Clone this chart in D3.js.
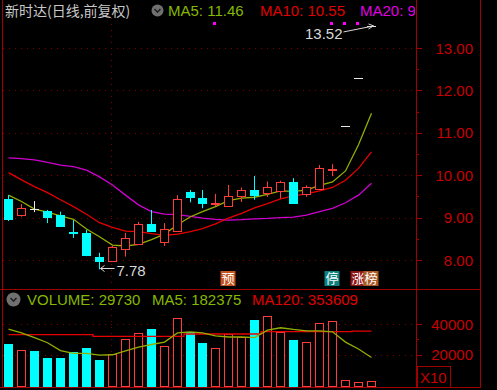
<!DOCTYPE html>
<html><head><meta charset="utf-8">
<script src="https://cdn.jsdelivr.net/npm/d3@7"></script>
<style>html,body{margin:0;padding:0;background:#000;overflow:hidden}svg{display:block}</style>
</head><body>
<svg id="c" width="497" height="390"></svg>
<script>
// ---- data ----
const days  = [1,2,3,4,5,6,7,8,9,10,11,12,13,14,15,16,17,18,19,20,21,22,23,24,25,26,27,28,29];
const open  = [9.44,9.07,9.20,9.16,9.05,8.67,8.64,8.06,7.98,8.25,8.38,8.85,8.43,8.69,9.61,9.47,9.32,9.27,9.52,9.65,9.59,9.63,9.85,9.55,9.67,10.12,11.17,12.29,13.52];
const high  = [9.53,9.32,9.39,9.18,9.14,8.94,8.71,8.17,8.33,8.64,8.90,9.18,8.87,9.53,9.65,9.65,9.56,9.77,9.71,9.98,9.85,9.87,9.93,9.76,10.24,10.26,11.17,12.29,13.52];
const low   = [8.92,9.02,9.13,8.87,8.78,8.52,8.09,7.78,7.96,8.08,8.38,8.69,8.33,8.69,9.36,9.22,9.27,9.27,9.37,9.42,9.49,9.45,9.33,9.49,9.67,9.98,11.17,12.29,13.52];
const close = [8.97,9.23,9.20,9.01,8.80,8.64,8.12,7.98,8.31,8.53,8.85,8.69,8.72,9.43,9.49,9.34,9.34,9.50,9.65,9.53,9.73,9.85,9.35,9.73,10.17,10.15,11.17,12.29,13.52];
const ma5   = [9.53,9.38,9.20,9.13,9.04,8.96,8.73,8.55,8.35,8.33,8.37,8.48,8.61,8.83,9.02,9.14,9.26,9.40,9.46,9.48,9.55,9.63,9.62,9.65,9.76,9.84,10.10,10.72,11.46];
const ma10  = [10.06,9.89,9.73,9.59,9.42,9.26,9.08,8.88,8.77,8.68,8.67,8.62,8.58,8.61,8.67,8.74,8.85,8.99,9.10,9.23,9.33,9.44,9.51,9.56,9.63,9.71,9.88,10.16,10.55];
const ma20  = [10.41,10.39,10.36,10.30,10.24,10.20,10.12,9.96,9.77,9.53,9.30,9.14,9.08,9.07,9.03,8.99,8.96,8.94,8.95,8.97,8.98,9.00,9.01,9.06,9.14,9.22,9.35,9.53,9.81];
const volume   = [266700,233300,224400,177800,177800,217800,242200,166700,206700,300000,342200,368900,257800,442200,346700,275600,242200,333300,315600,426700,451100,348900,293300,282200,405000,420000,35000,22145,29730];
const volMa5   = [366700,342000,311000,278000,226700,208900,208900,197800,200000,224400,248900,266700,282200,342200,348900,342200,322200,315600,315600,311100,360000,375600,364400,355600,355600,348900,282200,237800,182375];
const volMa120 = [331000,331000,331000,331000,331000,331000,331000,320000,320000,320000,320000,320000,320000,320000,335000,335000,335000,335000,335000,335000,350000,350000,350000,350000,350000,350000,350000,353609,353609];
const priceTicks = [8,9,10,11,12,13];
const priceMinor = [8.5,9.5,10.5,11.5,12.5];
const volTicks = [200000,400000];
const volMinor = [300000];
const volTickLabels = ["20000","40000"];
const stockTitle = "新时达(日线,前复权)";
const maNames = ["MA5","MA10","MA20"];
const maLast = ["11.46","10.55","9.81"];
const volNames = ["VOLUME: 29730","MA5: 182375","MA120: 353609"];
const markIdx = [16,25,26,27];
const eventIdx = [17,25,27,28];
const eventText = ["预","停","涨","榜"];
const eventFill = ["#c4531f","#0e8080","#8e1414","#a85a26"];
const lowIdx = 7, highIdx = 28;

// ---- drawing ----
const UP='#ff3c3c', DOWN='#00ffff', FLAT='#e8e8e8', GRID='#800000', AXIS='#a00000', LBL='#c80000';
const C5='#96ad00', C10='#e60000', C20='#d000d0';
const FONT='"Liberation Sans", Arial, sans-serif';
const svg = d3.select('#c');
svg.append('rect').attr('width',497).attr('height',390).attr('fill','#000');

const x = d3.scaleBand().domain(d3.range(days.length)).range([2,377]).paddingInner(0.3).paddingOuter(0.15);
const cx = i => Math.round(x(i) + x.bandwidth()/2) + 0.5;
const y = d3.scaleLinear().domain([8,13]).range([260,48]);
const yv = d3.scaleLinear().domain([0,400000]).range([385.5,324]);
const py = v => Math.round(y(v)) + 0.5;

// grid
const g = svg.append('g');
priceTicks.forEach(t => g.append('line').attr('x1',3).attr('x2',416).attr('y1',py(t)).attr('y2',py(t))
  .attr('stroke',GRID).attr('stroke-dasharray','1,5'));
volTicks.forEach(t => { const yy=Math.round(yv(t))+0.5; g.append('line').attr('x1',3).attr('x2',416).attr('y1',yy).attr('y2',yy)
  .attr('stroke',GRID).attr('stroke-dasharray','1,5'); });
const vx = cx(8) - 1;
g.append('line').attr('x1',vx).attr('x2',vx).attr('y1',18).attr('y2',288).attr('stroke',GRID).attr('stroke-dasharray','1,5');
g.append('line').attr('x1',vx).attr('x2',vx).attr('y1',291).attr('y2',386).attr('stroke',GRID).attr('stroke-dasharray','1,5');

// frame
const fr = svg.append('g').attr('stroke',AXIS).attr('stroke-width',1);
fr.append('line').attr('x1',2.5).attr('x2',2.5).attr('y1',0).attr('y2',388);
fr.append('line').attr('x1',416.5).attr('x2',416.5).attr('y1',0).attr('y2',388);
fr.append('line').attr('x1',480.5).attr('x2',480.5).attr('y1',0).attr('y2',388);
fr.append('line').attr('x1',0).attr('x2',481).attr('y1',289.5).attr('y2',289.5);
fr.append('line').attr('x1',0).attr('x2',481).attr('y1',387.5).attr('y2',387.5);

// price axis ticks + labels
priceTicks.forEach(t => {
  fr.append('line').attr('x1',416).attr('x2',422).attr('y1',py(t)).attr('y2',py(t));
  svg.append('text').attr('x',473).attr('y',y(t)+5.5).attr('text-anchor','end').attr('fill',LBL)
    .attr('font-family',FONT).attr('font-size',15).text(d3.format('.2f')(t));
});
priceMinor.forEach(t => fr.append('line').attr('x1',416).attr('x2',419).attr('y1',py(t)).attr('y2',py(t)));
volTicks.forEach((t,k) => {
  const yy=Math.round(yv(t))+0.5;
  fr.append('line').attr('x1',416).attr('x2',422).attr('y1',yy).attr('y2',yy);
  svg.append('text').attr('x',473).attr('y',yv(t)+5.5).attr('text-anchor','end').attr('fill',LBL)
    .attr('font-family',FONT).attr('font-size',15).text(volTickLabels[k]);
});
volMinor.forEach(t => { const yy=Math.round(yv(t))+0.5; fr.append('line').attr('x1',416).attr('x2',419).attr('y1',yy).attr('y2',yy); });
fr.append('rect').attr('x',417.5).attr('y',366.5).attr('width',33).attr('height',21).attr('fill','none');
svg.append('text').attr('x',420).attr('y',383).attr('fill',LBL).attr('font-family',FONT).attr('font-size',15).text('X10');

// MA lines (price)
const line = d3.line().x((d,i)=>cx(i)).y(d=>y(d));
[[ma20,C20],[ma10,C10],[ma5,C5]].forEach(([arr,col]) =>
  svg.append('path').attr('d',line(arr)).attr('fill','none').attr('stroke',col).attr('stroke-width',1.3));

// candles
const cg = svg.append('g');
days.forEach((d,i) => {
  const o=open[i], h=high[i], l=low[i], c=close[i], xc=cx(i);
  const col = c>o ? UP : (c<o ? DOWN : FLAT);
  if (c===o) {
    if (h>l) cg.append('line').attr('x1',xc).attr('x2',xc).attr('y1',y(h)).attr('y2',y(l)).attr('stroke',col);
    cg.append('line').attr('x1',xc-4.5).attr('x2',xc+4.5).attr('y1',py(o)).attr('y2',py(o)).attr('stroke',col);
    return;
  }
  const top = Math.round(y(Math.max(o,c))), bot = Math.round(y(Math.min(o,c)));
  const hh = Math.max(1, bot-top);
  if (c>o) {
    cg.append('line').attr('x1',xc).attr('x2',xc).attr('y1',y(h)).attr('y2',top).attr('stroke',col);
    cg.append('line').attr('x1',xc).attr('x2',xc).attr('y1',top+hh).attr('y2',y(l)).attr('stroke',col);
    cg.append('rect').attr('x',xc-4).attr('y',top+0.5).attr('width',8).attr('height',hh).attr('fill','#000').attr('stroke',col);
  } else {
    cg.append('line').attr('x1',xc).attr('x2',xc).attr('y1',y(h)).attr('y2',y(l)).attr('stroke',col);
    cg.append('rect').attr('x',xc-4).attr('y',top+0.5).attr('width',8).attr('height',hh).attr('fill',col).attr('stroke',col);
  }
});

// volume bars
const vg = svg.append('g');
volume.forEach((v,i) => {
  const up = close[i]>open[i] || (close[i]===open[i] && i>0 && close[i]>=close[i-1]);
  const col = up ? UP : DOWN;
  const top = Math.round(yv(v)), base = Math.round(yv(0));
  vg.append('rect').attr('x',cx(i)-4).attr('y',top+0.5).attr('width',8).attr('height',Math.max(1,base-top))
    .attr('fill', up ? '#000' : col).attr('stroke',col);
});
const vline = d3.line().x((d,i)=>cx(i)).y(d=>yv(d));
svg.append('path').attr('d',vline.curve(d3.curveStep)(volMa120)).attr('fill','none').attr('stroke',C10).attr('stroke-width',1.3);
svg.append('path').attr('d',d3.line().x((d,i)=>cx(i)).y(d=>yv(d))(volMa5)).attr('fill','none').attr('stroke',C5).attr('stroke-width',1.3);

// markers
markIdx.forEach(i => svg.append('rect').attr('x',cx(i)-2.5).attr('y',22).attr('width',3).attr('height',3).attr('fill','#ff00ff'));
eventIdx.forEach((i,k) => {
  svg.append('rect').attr('x',cx(i)-8).attr('y',271).attr('width',15).attr('height',15).attr('fill',eventFill[k]);
  svg.append('text').attr('x',cx(i)-0.5).attr('y',283).attr('text-anchor','middle').attr('fill','#ffffff')
    .attr('font-family','"Noto Sans CJK SC", sans-serif').attr('font-size',13).text(eventText[k]);
});

// low / high annotations
const ANN='#d8d8d8';
const ly = Math.round(y(low[lowIdx]))-0.5, lx = cx(lowIdx)+1;
svg.append('path').attr('d',`M${lx+14},${ly}H${lx}M${lx+4},${ly-3}L${lx},${ly}L${lx+4},${ly+3}`).attr('stroke',ANN).attr('fill','none');
svg.append('text').attr('x',lx+16).attr('y',ly+7).attr('fill',ANN).attr('font-family',FONT).attr('font-size',15).text(d3.format('.2f')(low[lowIdx]));
const hy = y(high[highIdx]), hx = cx(highIdx)+2;
svg.append('path').attr('d',`M${hx-30},${hy+6}L${hx},${hy}M${hx-5},${hy-2}L${hx},${hy}L${hx-5},${hy+3}`).attr('stroke',ANN).attr('fill','none');
svg.append('text').attr('x',hx-31).attr('y',hy+13).attr('text-anchor','end').attr('fill',ANN).attr('font-family',FONT).attr('font-size',15).text(d3.format('.2f')(high[highIdx]));

// header
const clip = svg.append('clipPath').attr('id','hc'); clip.append('rect').attr('x',0).attr('y',0).attr('width',415).attr('height',40);
const hg = svg.append('g').attr('clip-path','url(#hc)');
hg.append('text').attr('x',5).attr('y',16).attr('fill','#c8c8c8').attr('font-family','"Noto Sans CJK SC", sans-serif').attr('font-size',14).text(stockTitle);
function icon(cxp, cyp, r){
  svg.append('circle').attr('cx',cxp).attr('cy',cyp).attr('r',r).attr('fill','#707070');
  svg.append('path').attr('d',`M${cxp-3},${cyp-1.5}L${cxp},${cyp+1.5}L${cxp+3},${cyp-1.5}`).attr('stroke','#222').attr('stroke-width',1.6).attr('fill','none');
}
icon(157.5,10.5,6);
const hx0 = [168,260,360], hcol=['#86b800','#e00000','#e000e0'];
maNames.forEach((n,k)=> hg.append('text').attr('x',hx0[k]).attr('y',16).attr('fill',hcol[k]).attr('font-family',FONT).attr('font-size',15).text(n+': '+maLast[k]));

icon(13.5,299.5,7);
const vx0 = [27,152,252], vcol=['#86b800','#86b800','#e00000'];
volNames.forEach((n,k)=> svg.append('text').attr('x',vx0[k]).attr('y',305).attr('fill',vcol[k]).attr('font-family',FONT).attr('font-size',15).text(n));
</script>
</body></html>
